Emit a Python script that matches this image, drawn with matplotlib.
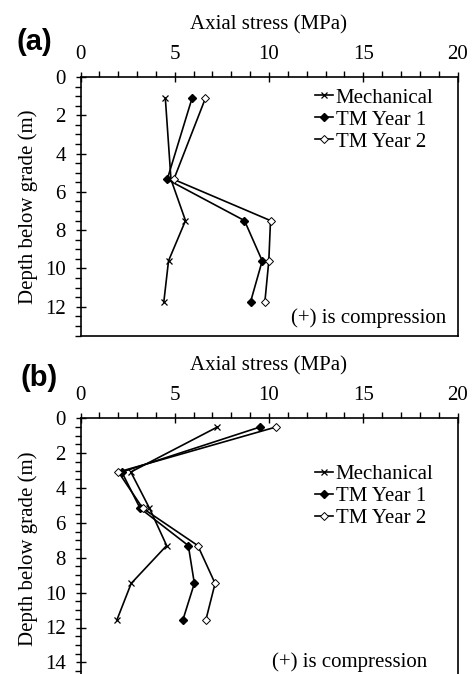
import matplotlib
matplotlib.use("Agg")
import matplotlib.pyplot as plt
from matplotlib.ticker import MultipleLocator

plt.rcParams['font.family'] = ['Liberation Serif', 'DejaVu Serif']
plt.rcParams['font.size'] = 15

# panel (a) profiles
depth_a = [1.1, 5.35, 7.5, 9.6, 11.75]
mech_a = [4.5, 4.8, 5.57, 4.67, 4.42]
tm1_a = [5.92, 4.6, 8.7, 9.64, 9.02]
tm2_a = [6.63, 4.95, 10.08, 9.99, 9.78]

# panel (b) profiles
depth_b = [0.5, 3.08, 5.16, 7.3, 9.47, 11.57]
mech_b = [7.26, 2.67, 3.66, 4.57, 2.69, 1.93]
tm1_b = [9.52, 2.19, 3.16, 5.72, 6.04, 5.43]
tm2_b = [10.37, 2.01, 3.3, 6.22, 7.14, 6.65]

labels = ["Mechanical", "TM Year 1", "TM Year 2"]

W, H = 475, 674
fig = plt.figure(figsize=(W / 100, H / 100), dpi=100)


def make_axes(left, top, right, bottom):
    return fig.add_axes([left / W, 1 - bottom / H, (right - left) / W, (bottom - top) / H])


def style(ax, ymax, ystep):
    ax.set_xlim(0, 20)
    ax.set_ylim(ymax, 0)
    ax.xaxis.tick_top()
    ax.xaxis.set_label_position('top')
    ax.xaxis.set_major_locator(MultipleLocator(5))
    ax.xaxis.set_minor_locator(MultipleLocator(1))
    ax.yaxis.set_major_locator(MultipleLocator(ystep))
    ax.yaxis.set_minor_locator(MultipleLocator(0.5))
    ax.tick_params(which='major', direction='inout', length=7, width=1, labelsize=15)
    ax.tick_params(which='minor', direction='out', length=4, width=1)
    ax.tick_params(axis='x', which='major', pad=6)
    ax.tick_params(axis='y', which='major', pad=7)
    ax.set_xlabel("Axial stress (MPa)", fontsize=15, labelpad=11)
    ax.set_ylabel("Depth below grade (m)", fontsize=15, labelpad=5)
    for sp in ax.spines.values():
        sp.set_linewidth(1.2)


def draw(ax, depth, mech, tm1, tm2):
    ax.plot(mech, depth, color='black', lw=1.2, marker='x', ms=5, mew=0.9, label=labels[0])
    ax.plot(tm1, depth, color='black', lw=1.2, marker='D', ms=4.5, mfc='black', label=labels[1])
    ax.plot(tm2, depth, color='black', lw=1.2, marker='D', ms=4.5, mfc='white', mew=0.7, label=labels[2])


leg_kw = dict(loc='upper right', frameon=False, fontsize=15, handlelength=0.9, handletextpad=0.1,
              labelspacing=0.12, borderaxespad=0.0)

ax1 = make_axes(80.5, 77, 457.5, 335.5)
style(ax1, 13.5, 2)
draw(ax1, depth_a, mech_a, tm1_a, tm2_a)
ax1.legend(bbox_to_anchor=(0.958, 0.99), **leg_kw)
ax1.text(0.97, 0.03, "(+) is compression", transform=ax1.transAxes, ha='right', va='bottom', fontsize=15)

ax2 = make_axes(80.5, 418.3, 457.5, 679.8)
style(ax2, 15, 2)
draw(ax2, depth_b, mech_b, tm1_b, tm2_b)
ax2.legend(bbox_to_anchor=(0.958, 0.855), **leg_kw)
ax2.text(0.92, 0.028, "(+) is compression", transform=ax2.transAxes, ha='right', va='bottom', fontsize=15)

fig.text(16 / W, 1 - 42 / H, "(a)", fontsize=21, fontweight='bold', family='Liberation Sans', va='center')
fig.text(21 / W, 1 - 378 / H, "(b)", fontsize=21, fontweight='bold', family='Liberation Sans', va='center')

fig.savefig("out.png", dpi=100)
